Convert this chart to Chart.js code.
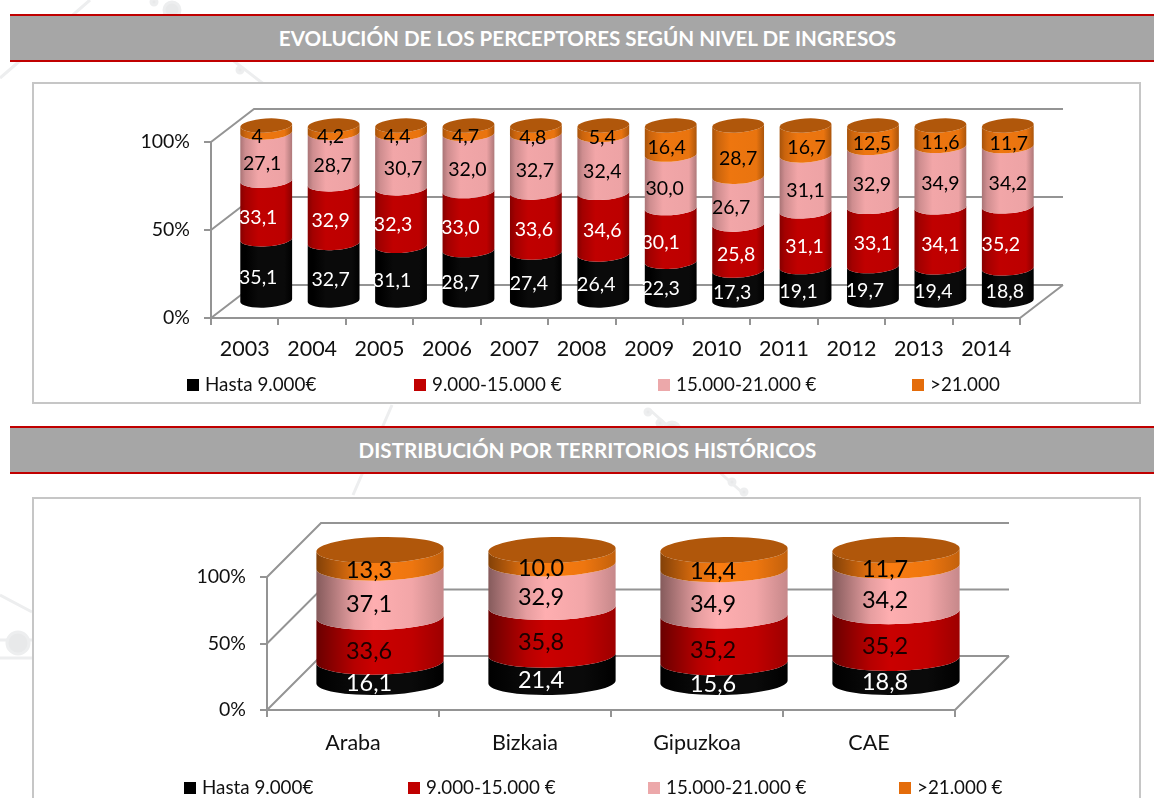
<!DOCTYPE html>
<html lang="es">
<head>
<meta charset="utf-8">
<title>Perceptores según nivel de ingresos</title>
<script src="https://cdn.jsdelivr.net/npm/chart.js@4"></script>
<style>
  html, body { margin: 0; background: #fff; }
  body { position: relative; width: 1154px; height: 798px; overflow: hidden; font-family: Lato, sans-serif; }
  #fondo { position: absolute; left: 0; top: 0; }
  .banda {
    position: absolute; left: 10px; right: 0; height: 44px; padding-left: 11px;
    background: #a6a6a6; border-top: 2px solid #c00000; border-bottom: 2px solid #c00000;
    color: #fff; font-weight: 700; font-size: 20.6px; line-height: 45px; text-align: center;
  }
  .panel { position: absolute; left: 32px; width: 1105px; background: #fff; border: 2px solid #c6c6c6; }
  .panel canvas { position: absolute; left: 0; top: 0; }
  .leyenda span { position: absolute; white-space: nowrap; font-size: 18.8px; color: #111; line-height: 20px; }
  .leyenda i { display: inline-block; width: 12px; height: 12px; margin-right: 6px; }
</style>
</head>
<body>
<svg id="fondo" width="1154" height="798" fill="#e8e9ea" stroke="#edeeef" stroke-width="3">
  <path d="M90 0L0 78M165 8L265 85M650 410L745 495M392 405L353 495M0 595L32 612" fill="none"/>
  <path d="M0 640H32M0 658H32" fill="none"/>
  <circle cx="172" cy="10" r="8"/><circle cx="154" cy="2" r="3"/><circle cx="240" cy="70" r="3"/>
  <circle cx="648" cy="412" r="3"/><circle cx="660" cy="423" r="3"/><circle cx="672" cy="430" r="8"/>
  <circle cx="732" cy="482" r="3"/><circle cx="744" cy="492" r="3"/><circle cx="18" cy="643" r="11"/>
</svg>

<div class="banda" style="top:14px">EVOLUCIÓN DE LOS PERCEPTORES SEGÚN NIVEL DE INGRESOS</div>
<div class="panel" style="top:82px;height:318px">
  <canvas id="graficoEvolucion" width="1105" height="318"></canvas>
  <div class="leyenda" id="leyendaEvolucion"></div>
</div>

<div class="banda" style="top:426px">DISTRIBUCIÓN POR TERRITORIOS HISTÓRICOS</div>
<div class="panel" style="top:497px;height:320px">
  <canvas id="graficoTerritorios" width="1105" height="301"></canvas>
  <div class="leyenda" id="leyendaTerritorios"></div>
</div>

<script>
// 1. Datos
const anios = ["2003", "2004", "2005", "2006", "2007", "2008", "2009", "2010", "2011", "2012", "2013", "2014"];
const hasta9000 = [35.1, 32.7, 31.1, 28.7, 27.4, 26.4, 22.3, 17.3, 19.1, 19.7, 19.4, 18.8];
const de9a15 = [33.1, 32.9, 32.3, 33.0, 33.6, 34.6, 30.1, 25.8, 31.1, 33.1, 34.1, 35.2];
const de15a21 = [27.1, 28.7, 30.7, 32.0, 32.7, 32.4, 30.0, 26.7, 31.1, 32.9, 34.9, 34.2];
const mas21 = [4, 4.2, 4.4, 4.7, 4.8, 5.4, 16.4, 28.7, 16.7, 12.5, 11.6, 11.7];

const territorios = ["Araba", "Bizkaia", "Gipuzkoa", "CAE"];
const terHasta9000 = [16.1, 21.4, 15.6, 18.8];
const terDe9a15 = [33.6, 35.8, 35.2, 35.2];
const terDe15a21 = [37.1, 32.9, 34.9, 34.2];
const terMas21 = [13.3, 10.0, 14.4, 11.7];

const nombresEvolucion = ["Hasta 9.000€", "9.000-15.000 €", "15.000-21.000 €", ">21.000"];
const nombresTerritorios = ["Hasta 9.000€", "9.000-15.000 €", "15.000-21.000 €", ">21.000 €"];
const colores = ["#000000", "#c00000", "#f2a6a8", "#ee760f"];
const coloresLeyenda = ["#000000", "#c00000", "#eca8aa", "#e46c0a"];
const ticksPorcentaje = [0, 50, 100];

// Las etiquetas del original están movidas a mano: desplazamiento en x por serie y año
const ajusteEvolucion = [
  [-8, -3, -9, -8, -7, -7, -10, -6, -7, -8, -7, -3],
  [-8, -3, -8, -8, -2, -1, -10, -2, -1, 0, 0, -7],
  [-4, -1, 2, -1, -1, -1, -6, -7, 0, -1, 0, 0],
  [-9, -3, -4, -3, -3, -1, -4, 0, 1, -1, 0, 1],
];

// ---- FUNCIONES ----
function sombrear(hex, f) {
  const n = parseInt(hex.slice(1), 16);
  const c = [n >> 16, (n >> 8) & 255, n & 255].map((v) => Math.min(255, Math.round(v * f) + (hex === "#000000" ? 10 * (f > 0.9) : 0)));
  return `rgb(${c[0]},${c[1]},${c[2]})`;
}

function formato(v) {
  return v === 4 ? "4" : v.toFixed(1).replace(".", ",");
}

// El gráfico original es 100% apilado, las series no suman exactamente 100
function crearDatasets(series, nombres) {
  const total = series[0].map((_, i) => series.reduce((s, serie) => s + serie[i], 0));
  return series.map((serie, k) => ({
    label: nombres[k],
    valores: serie,
    data: serie.map((v, i) => (v / total[i]) * 100),
    backgroundColor: colores[k],
  }));
}

function segmento(ctx, bar, color, op) {
  const cx = bar.x + op.dx / 2;
  const rx = bar.width / 2;
  const arriba = bar.y + op.dy / 2;
  const abajo = bar.base + op.dy / 2;
  const g = ctx.createLinearGradient(cx - rx, 0, cx + rx, 0);
  op.degradado.forEach(([pos, f]) => g.addColorStop(pos, sombrear(color, f)));
  ctx.fillStyle = g;
  ctx.beginPath();
  ctx.ellipse(cx, arriba, rx, op.ry, -op.giro, 0, Math.PI);
  ctx.ellipse(cx, abajo, rx, op.ry, -op.giro, Math.PI, 0, true);
  ctx.closePath();
  ctx.fill();
}

// Cilindros y caja 3D a partir de las escalas de Chart.js
const cilindros3d = {
  id: "cilindros3d",
  beforeDatasetsDraw(chart, args, op) {
    const { ctx, chartArea: a, scales: { y } } = chart;
    ctx.save();
    ctx.strokeStyle = "#949494";
    ctx.lineWidth = 2;
    ctx.beginPath();
    ticksPorcentaje.forEach((v) => {
      const py = y.getPixelForValue(v);
      ctx.moveTo(a.left, py);
      ctx.lineTo(a.left + op.dx, py + op.dy);
      ctx.lineTo(a.right + op.dx, py + op.dy);
    });
    const suelo = y.getPixelForValue(0);
    ctx.moveTo(a.right, suelo);
    ctx.lineTo(a.right + op.dx, suelo + op.dy);
    ctx.stroke();

    const metas = chart.data.datasets.map((_, k) => chart.getDatasetMeta(k));
    metas.forEach((meta, k) => {
      meta.data.forEach((bar) => segmento(ctx, bar, colores[k], op));
    });

    // Tapa superior
    metas[metas.length - 1].data.forEach((bar) => {
      ctx.fillStyle = sombrear(colores[3], 0.74);
      ctx.beginPath();
      ctx.ellipse(bar.x + op.dx / 2, bar.y + op.dy / 2, bar.width / 2, op.ry, -op.giro, 0, Math.PI * 2);
      ctx.fill();
    });

    // Etiquetas de valor
    ctx.font = `${op.fuente}px Lato, sans-serif`;
    ctx.textAlign = "center";
    ctx.textBaseline = "middle";
    metas.forEach((meta, k) => {
      ctx.fillStyle = op.colorEtiqueta[k];
      meta.data.forEach((bar, i) => {
        const ajuste = op.ajuste ? op.ajuste[k][i] : op.etiquetaDx;
        ctx.fillText(
          formato(chart.data.datasets[k].valores[i]),
          bar.x + op.dx / 2 + ajuste,
          (bar.y + bar.base) / 2 + op.etiquetaDy
        );
      });
    });
    ctx.restore();
    return false;
  },
};

function crearGrafico(id, etiquetas, datasets, cfg) {
  const eje = { color: "#949494", lineWidth: 2, tickLength: 7, drawOnChartArea: false };
  return new Chart(document.getElementById(id), {
    type: "bar",
    data: { labels: etiquetas, datasets },
    plugins: [cilindros3d],
    options: {
      responsive: false,
      animation: false,
      layout: { padding: cfg.margen },
      datasets: { bar: { categoryPercentage: 1, barPercentage: cfg.anchoBarra } },
      plugins: {
        legend: { display: false },
        tooltip: { enabled: false },
        cilindros3d: cfg.cilindro,
      },
      scales: {
        x: {
          stacked: true,
          grid: { ...eje, offset: true },
          border: { color: "#949494", width: 2 },
          ticks: { font: { family: "Lato", size: 21.5 }, color: "#111", padding: cfg.paddingX, maxRotation: 0, autoSkip: false },
          afterFit: (s) => { s.height = 46; },
        },
        y: {
          stacked: true,
          min: 0,
          max: 100,
          grid: eje,
          border: { color: "#949494", width: 2 },
          afterBuildTicks: (s) => { s.ticks = ticksPorcentaje.map((v) => ({ value: v })); },
          ticks: { font: { family: "Lato", size: 19.5 }, color: "#111", padding: 14, callback: (v) => v + "%" },
          afterFit: (s) => { s.width = 80; },
        },
      },
    },
  });
}

function renderLeyenda(id, chart, posX, y) {
  const cont = document.getElementById(id);
  chart.data.datasets.forEach((ds, k) => {
    const item = document.createElement("span");
    item.style.left = posX[k] + "px";
    item.style.top = y + "px";
    const cuadro = document.createElement("i");
    cuadro.style.background = coloresLeyenda[k];
    item.appendChild(cuadro);
    item.appendChild(document.createTextNode(ds.label));
    cont.appendChild(item);
  });
}

// 2. Render
const evolucion = crearGrafico("graficoEvolucion", anios, crearDatasets([hasta9000, de9a15, de15a21, mas21], nombresEvolucion), {
  margen: { left: 97, right: 119, top: 58, bottom: 38 },
  anchoBarra: 0.77,
  paddingX: 11,
  cilindro: {
    dx: 43, dy: -33, ry: 7, giro: 0.06, fuente: 19.5, etiquetaDy: -9, ajuste: ajusteEvolucion,
    colorEtiqueta: ["#fff", "#fff", "#000", "#000"],
    degradado: [[0, 0.7], [0.1, 0.85], [0.35, 1], [0.85, 0.98], [1, 0.72]],
  },
});

const distribucion = crearGrafico("graficoTerritorios", territorios, crearDatasets([terHasta9000, terDe9a15, terDe15a21, terMas21], nombresTerritorios), {
  margen: { left: 153, right: 184, top: 78, bottom: 44 },
  anchoBarra: 0.74,
  paddingX: 13,
  cilindro: {
    dx: 54, dy: -54, ry: 13, giro: 0.025, fuente: 23.5, etiquetaDy: -15, etiquetaDx: -11,
    colorEtiqueta: ["#fff", "#1a0000", "#000", "#000"],
    degradado: [[0, 0.55], [0.3, 0.95], [0.45, 1.05], [0.75, 1], [1, 0.82]],
  },
});

renderLeyenda("leyendaEvolucion", evolucion, [153, 380, 624, 878], 290);
renderLeyenda("leyendaTerritorios", distribucion, [150, 374, 614, 865], 278);
</script>
</body>
</html>
